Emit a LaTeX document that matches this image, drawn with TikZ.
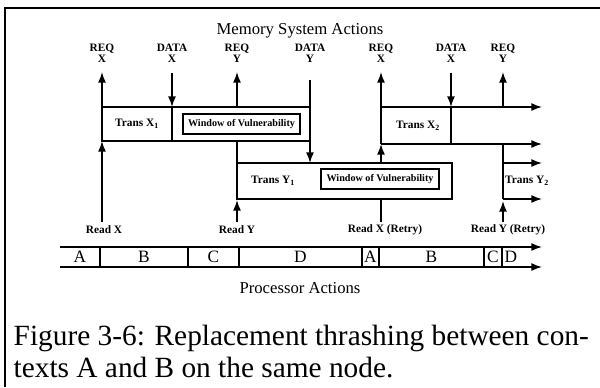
\documentclass[tikz,border=0pt]{standalone}
\usepackage{fontspec}
\setmainfont{Liberation Serif}
\usetikzlibrary{arrows.meta}

\begin{document}
\begin{tikzpicture}[x=0.75pt, y=-0.75pt, line width=1.1pt, >={Latex[length=8pt,width=6pt]}, % 1単位=1px、y軸は下向き
  lbl/.style={font=\bfseries\fontsize{8.5}{8.3}\selectfont, align=center, inner sep=0pt}, % 小さいラベル
  big/.style={font=\fontsize{12.5}{14}\selectfont, inner sep=0pt}, % 見出し
  win/.style={draw, line width=1.3pt, font=\bfseries\fontsize{7.6}{8}\selectfont, minimum width=88pt, minimum height=15pt, inner sep=0pt}] % 脆弱期間の枠
  \useasboundingbox (0,0) rectangle (600,387); % 余白込みの大きさ
  \draw[line width=1.5pt] (5,387)--(5,8)--(600,8); % 外枠
  \node[big] (mem) at (300,31) {Memory System Actions};
  % メモリ側のラベル
  \node[lbl] (reqx1) at (102,53) {REQ\\X};
  \node[lbl] (datax1) at (172,53) {DATA\\X};
  \node[lbl] (reqy1) at (237,53) {REQ\\Y};
  \node[lbl] (datay) at (310,53) {DATA\\Y};
  \node[lbl] (reqx2) at (381,53) {REQ\\X};
  \node[lbl] (datax2) at (451,53) {DATA\\X};
  \node[lbl] (reqy2) at (503,53) {REQ\\Y};
  \draw[->] (102,107)--(102,72); % REQ X
  \draw[->] (172,73)--(172,107); % DATA X
  \draw[->] (237,107)--(237,72); % REQ Y
  \draw[->] (310,80)--(310,163); % DATA Y
  \draw[->] (381,107)--(381,72);
  \draw[->] (451,73)--(451,107);
  \draw[->] (503,107)--(503,72);
  % 1段目 Trans X1
  \draw (102,107) rectangle (310,141);
  \draw (172,107)--(172,141);
  \node[lbl] (tx1) at (137,124) {Trans X$_{\mathbf 1}$};
  \node[win] (win1) at (241.5,124) {Window of Vulnerability};
  \draw (237,141)--(237,163); % 補助線
  \draw[->] (102,222)--(102,141); % Read X
  % 2段目 Trans Y1
  \draw (237,163) rectangle (452,199);
  \node[lbl] (ty1) at (273,181) {Trans Y$_{\mathbf 1}$};
  \node[win] (win2) at (380,179) {Window of Vulnerability};
  \draw[->] (237,222)--(237,200); % Read Y
  \draw (381,222)--(381,199); % Read X (Retry)
  \draw[->] (381,163)--(381,144);
  % Trans X2
  \draw[->] (381,107)--(542,107);
  \draw[->] (381,144)--(542,144);
  \draw (381,107)--(381,144);
  \draw (451,107)--(451,144);
  \node[lbl] (tx2) at (418,126) {Trans X$_{\mathbf 2}$};
  % Trans Y2
  \draw (503,144)--(503,163);
  \draw[->] (503,163)--(542,163);
  \draw[->] (503,199)--(542,199);
  \draw (503,163)--(503,199);
  \node[lbl] (ty2) at (527,181) {Trans Y$_{\mathbf 2}$};
  \draw[->] (503,222)--(503,201); % Read Y (Retry)
  % プロセッサ側
  \node[lbl] (rx) at (104,230) {Read X};
  \node[lbl] (ry) at (237,230) {Read Y};
  \node[lbl] (rxr) at (385,230) {Read X (Retry)};
  \node[lbl] (ryr) at (508,230) {Read Y (Retry)};
  \draw[->] (60,247)--(542,247);
  \draw[->] (60,267)--(542,267);
  \foreach \x in {100,188,239,362,379,484,502} \draw (\x,247)--(\x,267); % 区切り
  \foreach \x/\c [count=\i] in {80/A,144/B,213.5/C,300.5/D,370.5/A,431.5/B,493/C,511/D}
    \node[big, font=\fontsize{13}{14}\selectfont] (seg\i) at (\x,257) {\c};
  \node[big] (proc) at (300,288) {Processor Actions};
  % キャプション
  \node[anchor=base west, inner sep=0pt, font=\fontsize{22}{24}\selectfont] (cap1) at (13,345) {Figure 3-6: Replacement thrashing between con-};
  \node[anchor=base west, inner sep=0pt, font=\fontsize{22}{24}\selectfont] (cap2) at (13,377) {texts A and B on the same node.};
\end{tikzpicture}
\end{document}
